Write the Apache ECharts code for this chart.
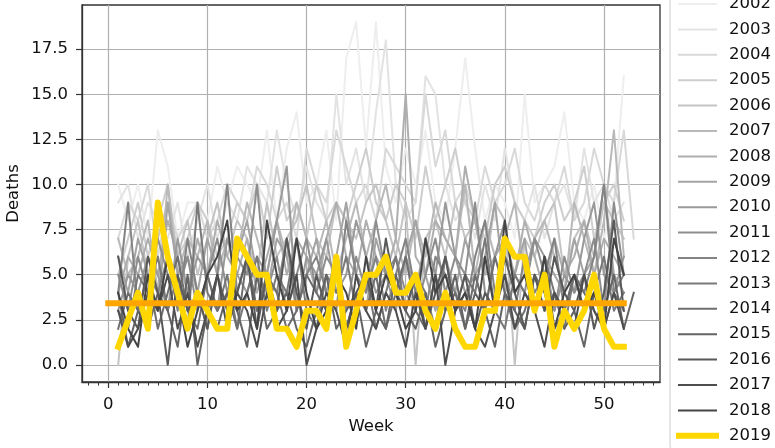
<!DOCTYPE html>
<html>
<head>
<meta charset="utf-8">
<script src="https://cdn.jsdelivr.net/npm/echarts@6/dist/echarts.min.js"></script>
<style>
  html, body { margin: 0; padding: 0; background: #fff; }
  #chart { width: 775px; height: 448px; }
</style>
</head>
<body>
<div id="chart"></div>
<script>
// weekly deaths per year, week 1 first
const years = ['2002', '2003', '2004', '2005', '2006', '2007', '2008', '2009', '2010',
  '2011', '2012', '2013', '2014', '2015', '2016', '2017', '2018'];

const d2002 = [10, 8, 10, 7, 13, 11, 7, 9, 9, 8, 11, 9, 11, 10, 9, 13, 8, 12, 14, 9, 10, 13, 8, 17, 19, 12, 19, 11, 9, 12, 10, 13, 9, 8, 12, 17, 12, 8, 10, 9, 7, 15, 9, 10, 11, 14, 9, 8, 10, 7, 9, 16];
const d2003 = [9, 10, 7, 9, 8, 7, 9, 6, 8, 10, 7, 9, 8, 11, 10, 9, 13, 10, 8, 11, 9, 8, 15, 10, 12, 9, 14, 18, 10, 8, 9, 16, 15, 10, 8, 9, 7, 10, 8, 12, 9, 8, 10, 7, 9, 10, 8, 12, 9, 10, 8, 9];
const d2004 = [7, 9, 8, 10, 6, 9, 7, 8, 9, 7, 8, 10, 9, 8, 11, 10, 8, 9, 7, 12, 10, 9, 13, 11, 9, 10, 8, 12, 11, 10, 9, 15, 11, 13, 9, 10, 8, 11, 9, 10, 12, 9, 8, 10, 9, 11, 8, 9, 12, 10, 9, 13, 7];
const d2005 = [5, 7, 9, 6, 8, 10, 6, 7, 9, 8, 6, 7, 9, 8, 10, 7, 11, 8, 9, 7, 10, 8, 9, 8, 10, 12, 9, 8, 10, 9, 7, 11, 8, 10, 12, 9, 8, 7, 10, 11, 9, 8, 7, 9, 10, 8, 9, 11, 7, 9, 10, 8];
const d2006 = [0, 6, 8, 5, 7, 9, 6, 8, 5, 7, 9, 6, 8, 7, 5, 9, 6, 7, 8, 10, 7, 6, 9, 8, 7, 9, 10, 8, 6, 9, 0, 7, 8, 6, 9, 7, 8, 5, 9, 8, 0, 7, 6, 8, 9, 5, 7, 8, 6, 9, 8, 7];
const d2007 = [7, 5, 6, 8, 4, 10, 5, 7, 6, 8, 5, 7, 6, 9, 7, 5, 8, 6, 9, 7, 6, 8, 5, 7, 9, 6, 8, 10, 7, 5, 8, 6, 9, 7, 6, 10, 5, 8, 6, 7, 9, 5, 7, 8, 6, 4, 9, 7, 5, 8, 13, 6];
const d2008 = [4, 6, 5, 7, 5, 8, 6, 4, 7, 5, 8, 6, 5, 7, 4, 6, 8, 5, 7, 6, 4, 7, 9, 6, 5, 8, 6, 5, 7, 15, 6, 5, 8, 7, 6, 11, 8, 5, 6, 7, 5, 8, 6, 4, 7, 5, 6, 8, 5, 7, 6, 5];
const d2009 = [6, 4, 7, 5, 3, 9, 5, 6, 4, 7, 5, 3, 6, 8, 5, 4, 7, 6, 3, 5, 7, 4, 6, 9, 5, 3, 7, 5, 4, 6, 8, 5, 3, 6, 4, 7, 5, 6, 9, 4, 5, 7, 3, 6, 5, 4, 7, 5, 6, 10, 5, 4];
const d2010 = [3, 5, 4, 6, 5, 3, 7, 4, 6, 5, 3, 7, 5, 4, 6, 5, 8, 11, 3, 6, 5, 7, 4, 5, 8, 6, 4, 5, 3, 6, 4, 7, 5, 9, 6, 4, 5, 3, 6, 8, 4, 5, 7, 6, 3, 5, 4, 7, 9, 5, 4, 6];
const d2011 = [5, 3, 6, 4, 7, 5, 4, 6, 3, 5, 7, 4, 6, 5, 10, 4, 6, 3, 5, 7, 4, 6, 5, 3, 6, 4, 8, 5, 6, 4, 3, 5, 7, 4, 6, 5, 9, 4, 3, 6, 5, 4, 7, 5, 3, 6, 4, 5, 7, 3, 9, 5];
const d2012 = [4, 9, 3, 5, 4, 6, 3, 7, 4, 2, 5, 10, 4, 6, 3, 5, 4, 7, 3, 5, 6, 4, 3, 8, 5, 4, 6, 3, 5, 7, 4, 3, 6, 5, 4, 3, 6, 8, 4, 5, 3, 6, 4, 5, 7, 3, 5, 4, 6, 10, 4, 5];
const d2013 = [3, 2, 5, 4, 6, 3, 5, 2, 9, 4, 3, 5, 2, 4, 6, 3, 5, 4, 7, 3, 2, 5, 4, 6, 3, 5, 2, 4, 6, 3, 5, 4, 2, 6, 3, 5, 4, 7, 3, 2, 5, 4, 3, 6, 4, 2, 5, 3, 4, 6, 3, 4];
const d2014 = [2, 4, 3, 5, 2, 4, 6, 3, 2, 5, 3, 4, 2, 6, 3, 5, 4, 2, 3, 5, 4, 3, 6, 2, 4, 3, 5, 2, 4, 6, 3, 2, 5, 3, 4, 2, 5, 3, 6, 4, 2, 3, 5, 4, 2, 3, 5, 4, 3, 2, 4, 3];
const d2015 = [4, 1, 3, 2, 4, 3, 1, 5, 0, 3, 2, 4, 3, 1, 5, 2, 3, 4, 2, 1, 3, 5, 2, 3, 4, 1, 3, 2, 5, 3, 2, 4, 1, 3, 5, 2, 4, 3, 1, 4, 3, 2, 5, 3, 4, 2, 3, 1, 4, 3, 5, 2, 4];
const d2016 = [6, 3, 2, 6, 4, 0, 5, 3, 4, 2, 5, 3, 4, 6, 2, 5, 3, 7, 4, 2, 5, 3, 6, 2, 4, 5, 3, 7, 4, 3, 5, 2, 4, 6, 3, 5, 2, 4, 3, 6, 4, 2, 5, 3, 6, 4, 3, 5, 2, 4, 8, 3];
const d2017 = [3, 1, 2, 4, 3, 5, 2, 4, 1, 3, 5, 2, 4, 3, 1, 4, 2, 3, 5, 0, 2, 4, 3, 1, 5, 3, 2, 4, 3, 1, 4, 2, 5, 0, 3, 4, 2, 1, 3, 5, 2, 4, 3, 1, 4, 3, 2, 5, 3, 2, 4, 2];
const d2018 = [4, 2, 1, 5, 3, 6, 4, 1, 3, 5, 6, 8, 3, 4, 2, 8, 5, 3, 7, 4, 2, 3, 5, 4, 2, 6, 3, 5, 4, 2, 3, 7, 4, 5, 3, 4, 2, 6, 3, 8, 4, 5, 3, 6, 2, 4, 5, 3, 4, 2, 7, 5];
const greyData = [d2002, d2003, d2004, d2005, d2006, d2007, d2008, d2009, d2010,
  d2011, d2012, d2013, d2014, d2015, d2016, d2017, d2018];

const d2019 = [1, 2.5, 4, 2, 9, 6, 4, 2, 4, 3, 2, 2, 7, 6, 5, 5, 2, 2, 1, 3, 3, 2, 6, 1, 3, 5, 5, 6, 4, 4, 5, 3, 2, 4, 2, 1, 1, 3, 3, 7, 6, 6, 3, 5, 1, 3, 2, 3, 5, 2, 1, 1];

// horizontal reference level, week 0 to 52
const refLevel = 3.42;
const refWeeks = [0, 52];

const xTicks = [0, 10, 20, 30, 40, 50];
const yTicks = [0, 2.5, 5, 7.5, 10, 12.5, 15, 17.5];

const greyShades = ['#eeeeee', '#e3e3e3', '#d9d9d9', '#cecece', '#c4c4c4', '#b9b9b9', '#aeaeae', '#a4a4a4', '#999999',
  '#8e8e8e', '#848484', '#797979', '#6e6e6e', '#646464', '#595959', '#4e4e4e', '#444444'];

const font = 'DejaVu Sans';
const myChart = echarts.init(document.getElementById('chart'));

const series = years.map((y, k) => ({
  name: y,
  type: 'line',
  symbol: 'none',
  data: greyData[k].map((v, i) => [i + 1, v]),
  lineStyle: { color: greyShades[k], width: 2, join: 'round', cap: 'square' },
  itemStyle: { color: greyShades[k] }
}));

series.push({
  name: '2019',
  type: 'line',
  symbol: 'none',
  data: d2019.map((v, i) => [i + 1, v]),
  lineStyle: { color: '#ffd700', width: 6, join: 'round', cap: 'square' },
  itemStyle: { color: '#ffd700' }
});

series.push({
  name: 'ref',
  type: 'line',
  symbol: 'none',
  data: refWeeks.map(w => [w, refLevel]),
  lineStyle: { color: '#ffa500', width: 6, cap: 'square' },
  itemStyle: { color: '#ffa500' }
});

const option = {
  animation: false,
  backgroundColor: '#fff',
  grid: {
    left: 82, right: 115, top: 5, bottom: 66,
    outerBoundsMode: 'none', containLabel: false,
    show: true, borderColor: '#333', borderWidth: 1.3, backgroundColor: 'transparent'
  },
  xAxis: {
    type: 'value',
    min: -2.65, max: 55.65,
    minInterval: 10, maxInterval: 10,
    name: 'Week', nameLocation: 'middle', nameGap: 36, nameMoveOverlap: false,
    nameTextStyle: { fontSize: 16.5, color: '#111', fontFamily: font },
    axisLine: { show: true, onZero: false, lineStyle: { color: '#333', width: 1.3 } },
    axisTick: { show: true, customValues: xTicks, length: 6, lineStyle: { color: '#333', width: 1.2 } },
    minorTick: { show: true, splitNumber: 10, length: 3.5, lineStyle: { color: '#333', width: 1 } },
    axisLabel: { customValues: xTicks, fontSize: 16.5, margin: 14, color: '#111', fontFamily: font },
    splitLine: { show: true, lineStyle: { color: '#b0b0b0', width: 1.2 } }
  },
  yAxis: {
    type: 'value',
    min: -0.95, max: 19.95,
    name: 'Deaths', nameLocation: 'middle', nameGap: 60, nameRotate: 90, nameMoveOverlap: false,
    nameTextStyle: { fontSize: 16.5, color: '#111', fontFamily: font },
    axisLine: { show: true, onZero: false, lineStyle: { color: '#333', width: 1.3 } },
    axisTick: { show: true, customValues: yTicks, length: 6, lineStyle: { color: '#333', width: 1.2 } },
    axisLabel: {
      customValues: yTicks, fontSize: 16.5, margin: 14, color: '#111', fontFamily: font,
      formatter: v => v.toFixed(1)
    },
    splitLine: { show: true, lineStyle: { color: '#b0b0b0', width: 1.2 } }
  },
  legend: {
    orient: 'vertical',
    left: 670, top: -9.5, height: 600,
    padding: [5, 20, 5, 6],
    itemWidth: 37, itemHeight: 16, itemGap: 8.4,
    borderColor: '#cccccc', borderWidth: 1, borderRadius: 3,
    backgroundColor: '#fff',
    textStyle: { fontSize: 16.5, color: '#111', fontFamily: font, lineHeight: 16, padding: [0, 0, 0, 8] },
    itemStyle: { color: 'rgba(0,0,0,0)', borderWidth: 0, opacity: 0 },
    lineStyle: { width: 'inherit' },
    data: years.concat(['2019'])
  },
  series: series
};

option && myChart.setOption(option);
</script>
</body>
</html>
